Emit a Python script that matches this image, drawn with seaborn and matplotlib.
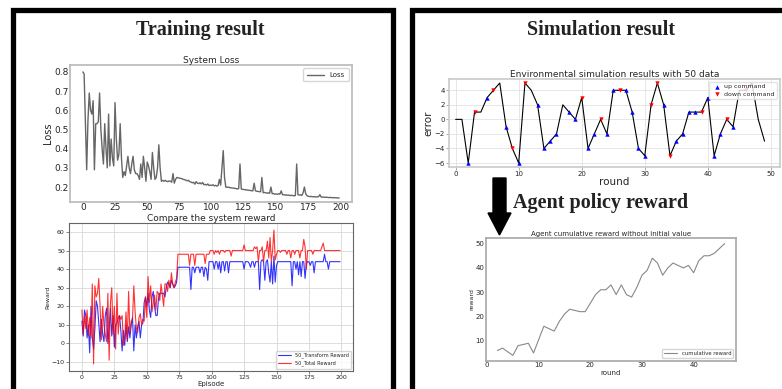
import matplotlib
matplotlib.use("Agg")
import matplotlib.pyplot as plt
import seaborn as sns
import pandas as pd
from matplotlib.patches import Rectangle, Polygon

# ---- data ----
loss = [0.80, 0.79, 0.55, 0.29, 0.55, 0.69, 0.60, 0.58, 0.65, 0.29,
        0.53, 0.53, 0.54, 0.69, 0.50, 0.40, 0.32, 0.53, 0.40, 0.30,
        0.58, 0.31, 0.45, 0.35, 0.31, 0.64, 0.45, 0.34, 0.37, 0.53,
        0.35, 0.25, 0.28, 0.26, 0.31, 0.36, 0.30, 0.27, 0.32, 0.36,
        0.29, 0.27, 0.27, 0.26, 0.24, 0.32, 0.25, 0.36, 0.30, 0.23,
        0.33, 0.31, 0.28, 0.24, 0.38, 0.30, 0.24, 0.25, 0.30, 0.42,
        0.30, 0.23, 0.235, 0.23, 0.235, 0.23, 0.228, 0.232, 0.23, 0.225,
        0.27, 0.22, 0.24, 0.25, 0.248, 0.246, 0.245, 0.243, 0.24, 0.238,
        0.236, 0.232, 0.235, 0.228, 0.226, 0.222, 0.225, 0.215, 0.228, 0.22,
        0.218, 0.222, 0.216, 0.224, 0.212, 0.214, 0.21, 0.216, 0.208, 0.21,
        0.208, 0.212, 0.206, 0.209, 0.205, 0.208, 0.24, 0.21, 0.30, 0.39,
        0.25, 0.20, 0.198, 0.20, 0.197, 0.196, 0.195, 0.194, 0.193, 0.192,
        0.19, 0.192, 0.32, 0.19, 0.188, 0.187, 0.186, 0.185, 0.184, 0.183,
        0.182, 0.181, 0.18, 0.22, 0.18, 0.178, 0.177, 0.176, 0.175, 0.25,
        0.17, 0.172, 0.17, 0.168, 0.17, 0.167, 0.20, 0.165, 0.166, 0.163,
        0.164, 0.162, 0.165, 0.163, 0.18, 0.16, 0.16, 0.158, 0.159, 0.157,
        0.158, 0.155, 0.157, 0.156, 0.154, 0.156, 0.32, 0.16, 0.158, 0.16,
        0.156, 0.17, 0.20, 0.165, 0.155, 0.152, 0.15, 0.151, 0.15, 0.149,
        0.15, 0.148, 0.149, 0.15, 0.16, 0.148, 0.147, 0.148, 0.146, 0.147,
        0.146, 0.145, 0.146, 0.145, 0.144, 0.145, 0.144, 0.144, 0.143, 0.143]

total_reward = [18, 5, 15, 8, 18, 4, 14, 3, 32, -11,
                31, 25, 27, 35, 20, 2, 20, 10, 5, 1,
                27, -9, 22, 30, 5, 20, -3, 27, 5, 15,
                13, 15, -1, 3, 17, 2, 28, 5, 12, 13,
                31, 17, 8, 6, 14, 16, 10, 13, 12, 25,
                14, 36, 22, 31, 17, 22, 26, 18, 28, 27,
                23, 32, 26, 20, 32, 32, 28, 34, 30, 38,
                32, 30, 33, 35, 48,
                48, 48, 48, 48, 48, 48, 48, 48, 42, 48,
                48, 48, 42, 48, 48, 48, 48, 48, 48, 48,
                43, 48, 48, 48, 50,
                50, 50, 48, 50, 49, 50, 48, 50, 50, 50,
                49, 50, 50, 50, 50, 47, 50, 50, 50, 50,
                50, 50, 50, 50, 50, 53, 50, 50, 50, 50,
                50, 50, 50, 52, 51, 52, 44, 50, 50, 52,
                44, 50, 50, 55, 46, 57, 44, 50, 61, 45,
                48, 50, 50, 49, 50, 50, 50, 50, 48, 50,
                50, 46, 50, 50, 48, 50, 50, 50, 46, 50,
                50, 56, 52, 40, 50, 50, 50, 50, 48, 50,
                50, 50, 50, 50, 50, 52, 54, 50, 50, 50,
                50, 50, 50, 50, 50, 50, 50, 50, 50, 50]

transform_reward = [12, 4, 18, 15, 3, 10, -5, 20, 3, -3,
                    8, 23, 20, 11, 1, 13, 5, 1, 15, 19,
                    0, 8, 19, 4, 15, -2, 10, 11, 14, 15,
                    7, -4, 7, -1, 10, 1, 9, 3, 10, 14,
                    -4, 10, 3, 9, 12, 3, 10, 11, 22, 25,
                    20, 27, 18, 14, 25, 28, 20, 15, 15, 24,
                    27, 27, 27, 27, 25, 30, 33, 32, 30, 34,
                    32, 30, 31, 33, 41,
                    41, 41, 41, 41, 41, 41, 41, 41, 41, 29,
                    41, 41, 38, 41, 41, 41, 38, 41, 41, 36,
                    41, 40, 34, 44, 44,
                    44, 44, 40, 44, 44, 40, 44, 38, 44, 44,
                    39, 44, 44, 38, 44, 44, 44, 44, 44, 44,
                    44, 44, 44, 44, 44, 40, 44, 44, 44, 43,
                    41, 44, 44, 41, 44, 44, 44, 29, 44, 45,
                    44, 34, 44, 45, 38, 33, 44, 32, 47, 33,
                    42, 44, 44, 44, 44, 44, 44, 44, 44, 44,
                    44, 44, 31, 44, 44, 40, 44, 37, 44, 36,
                    44, 44, 35, 43, 44, 44, 42, 44, 44, 38,
                    44, 44, 44, 44, 44, 44, 44, 48, 44, 44,
                    40, 44, 44, 44, 44, 44, 44, 44, 44, 44]

sim_error = [0, 0, -6, 1, 1, 3, 4, 5, -1, -4,
             -6, 5, 4, 2, -4, -3, -2, 2, 1, 0,
             3, -4, -2, 0, -2, 4, 4, 4, 1, -4,
             -5, 2, 5, 2, -5, -3, -2, 1, 1, 1,
             3, -5, -2, 0, -1, 4, 4, 5, 0, -3]
up_rounds = [2, 5, 8, 10, 13, 14, 15, 16, 18, 19, 21, 22, 24, 25, 27, 28,
             29, 30, 33, 35, 36, 37, 38, 40, 41, 42, 44]
down_rounds = [3, 6, 9, 11, 20, 23, 26, 31, 32, 34, 39, 43, 46]

cum_rounds = list(range(2, 47))
cum_reward = [6, 7, 5.5, 4, 8, 8.5, 9, 5, 10.5, 16, 15, 14, 18, 21, 23,
              22.5, 22, 22, 25.5, 29, 31, 31, 33, 29, 33, 29, 28, 32, 37,
              39, 44, 42, 37, 40, 42, 41, 40, 41, 38, 43, 45, 45, 46, 48, 50]

W, H = 782, 389


def px_rect(left, top, right, bottom):
    return [left / W, 1 - bottom / H, (right - left) / W, (bottom - top) / H]


sns.set_theme(style="white")
plt.rcParams['font.family'] = ['DejaVu Sans']

fig = plt.figure(figsize=(W / 100, H / 100), dpi=100)
fig.patch.set_facecolor("white")

# frames
fig.patches.append(Rectangle((13.5 / W, -0.1), 379 / W, 1.1 - 10.5 / H,
                             transform=fig.transFigure, fill=False,
                             edgecolor="black", linewidth=3.8))
fig.patches.append(Rectangle((411.5 / W, -0.1), 400 / W, 1.1 - 10.5 / H,
                             transform=fig.transFigure, fill=False,
                             edgecolor="black", linewidth=3.8))

# big headings
title_font = dict(family="Liberation Serif", weight="bold", color="#222222")
fig.text(200 / W, 1 - 30 / H, "Training result", ha="center", va="center",
         fontsize=14.5, **title_font)
fig.text(601 / W, 1 - 30 / H, "Simulation result", ha="center", va="center",
         fontsize=14.5, **title_font)
fig.text(601 / W, 1 - 203 / H, "Agent policy reward", ha="center", va="center",
         fontsize=14.5, **title_font)

# arrow
arrow = [(493, 178), (506, 178), (506, 213), (511, 213), (499.5, 235),
         (488, 213), (493, 213)]
fig.patches.append(Polygon([(x / W, 1 - y / H) for x, y in arrow], closed=True,
                           transform=fig.transFigure, facecolor="black",
                           edgecolor="black"))

# ---- System Loss ----
ax1 = fig.add_axes(px_rect(70, 65, 352, 202))
sns.lineplot(x=list(range(len(loss))), y=loss, ax=ax1, color="#666666",
             linewidth=1.0, label="Loss")
ax1.set_xlim(-9.95, 208.95)
ax1.set_ylim(0.122, 0.836)
ax1.set_title("System Loss", fontsize=6.5, pad=1.5)
ax1.set_ylabel("Loss", fontsize=7, labelpad=1)
ax1.set_xlabel("")
ax1.set_xticks(range(0, 201, 25))
ax1.set_yticks([0.2, 0.3, 0.4, 0.5, 0.6, 0.7, 0.8])
ax1.tick_params(labelsize=6.5, pad=1, length=0)
for s in ax1.spines.values():
    s.set_color("#bbbbbb")
ax1.legend(loc="upper right", fontsize=5, frameon=True, edgecolor="#cccccc",
           handlelength=2.5, borderpad=0.5)

# ---- Compare the system reward ----
ax2 = fig.add_axes(px_rect(69, 223, 353, 371))
episodes = list(range(len(total_reward)))
sns.lineplot(x=episodes, y=transform_reward, ax=ax2, color="blue",
             linewidth=0.8, alpha=0.8, label="50_Transform Reward")
sns.lineplot(x=episodes, y=total_reward, ax=ax2, color="red",
             linewidth=0.8, alpha=0.8, label="50_Total Reward")
ax2.set_xlim(-9.95, 208.95)
ax2.set_ylim(-14.8, 64.8)
ax2.set_xticks(range(0, 201, 25))
ax2.set_yticks(range(-10, 61, 10))
ax2.grid(True, color="#d8d8d8", linewidth=0.6)
ax2.set_title("Compare the system reward", fontsize=6.5, pad=1.5)
ax2.set_xlabel("Episode", fontsize=5, labelpad=0.5)
ax2.set_ylabel("Reward", fontsize=4.5, labelpad=1)
ax2.tick_params(labelsize=4.5, pad=1, length=2, width=0.5, color="#555555",
                bottom=True, left=True)
for s in ax2.spines.values():
    s.set_color("#666666")
    s.set_linewidth(0.8)
ax2.legend(loc="lower right", fontsize=3.6, frameon=True, edgecolor="#cccccc",
           handlelength=2.5)

# ---- Environmental simulation ----
ax3 = fig.add_axes(px_rect(449, 79, 780, 167))
rounds = list(range(len(sim_error)))
sns.lineplot(x=rounds, y=sim_error, ax=ax3, color="black", linewidth=0.8)
sns.scatterplot(x=up_rounds, y=[sim_error[i] for i in up_rounds], ax=ax3,
                marker="^", color="blue", s=10, linewidth=0, label="up command",
                zorder=3)
sns.scatterplot(x=down_rounds, y=[sim_error[i] for i in down_rounds], ax=ax3,
                marker="v", color="red", s=10, linewidth=0,
                label="down command", zorder=3)
ax3.set_xlim(-1.05, 51.45)
ax3.set_ylim(-6.55, 5.55)
ax3.set_xticks(range(0, 51, 10))
ax3.set_yticks(range(-6, 5, 2))
ax3.grid(True, color="#e2e2e2", linewidth=0.6)
ax3.set_title("Environmental simulation results with 50 data", fontsize=6.5,
              pad=1.5)
ax3.set_xlabel("round", fontsize=7.5, labelpad=0)
ax3.set_ylabel("error", fontsize=7.5, labelpad=1)
ax3.tick_params(labelsize=5, pad=1, length=2, width=0.5, color="#888888",
                bottom=True, left=True)
for s in ax3.spines.values():
    s.set_color("#cccccc")
ax3.legend(loc="upper right", fontsize=4.5, frameon=True, edgecolor="#dddddd",
           handletextpad=0.2, borderpad=0.3, labelspacing=0.3)

# ---- Agent cumulative reward ----
ax4 = fig.add_axes(px_rect(486, 238, 736, 361))
sns.lineplot(x=cum_rounds, y=cum_reward, ax=ax4, color="#888888",
             linewidth=0.8, label="cumulative reward")
ax4.set_xlim(-0.2, 48.2)
ax4.set_ylim(1.7, 52.3)
ax4.set_xticks(range(0, 41, 10))
ax4.set_yticks(range(10, 51, 10))
ax4.set_title("Agent cumulative reward without initial value", fontsize=5,
              pad=1.5)
ax4.set_xlabel("round", fontsize=5, labelpad=1)
ax4.set_ylabel("reward", fontsize=4.5, labelpad=1)
ax4.tick_params(labelsize=5, pad=1, length=0)
for s in ax4.spines.values():
    s.set_color("#aaaaaa")
ax4.legend(loc="lower right", fontsize=3.8, frameon=True, edgecolor="#cccccc",
           handlelength=2.5)

fig.savefig("out.png", dpi=100, facecolor="white")
